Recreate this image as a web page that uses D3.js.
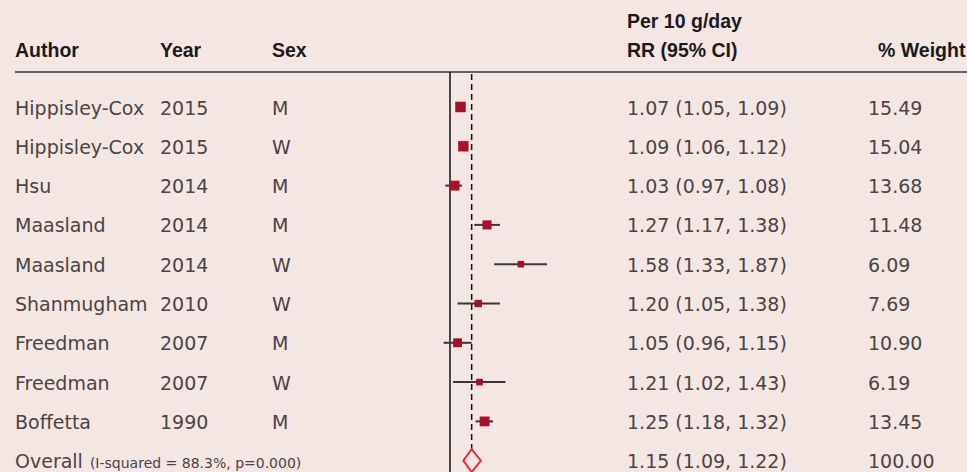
<!DOCTYPE html>
<html>
<head>
<meta charset="utf-8">
<script src="https://cdn.jsdelivr.net/npm/d3@7"></script>
<style>
  html, body { margin: 0; padding: 0; background: #f4e6e3; }
  svg { display: block; }
</style>
</head>
<body>
<div id="chart"></div>
<script>
const authors = ["Hippisley-Cox", "Hippisley-Cox", "Hsu", "Maasland", "Maasland", "Shanmugham", "Freedman", "Freedman", "Boffetta"];
const years = ["2015", "2015", "2014", "2014", "2014", "2010", "2007", "2007", "1990"];
const sexes = ["M", "W", "M", "M", "W", "W", "M", "W", "M"];
const rrValues = [1.07, 1.09, 1.03, 1.27, 1.58, 1.20, 1.05, 1.21, 1.25];
const ciLow = [1.05, 1.06, 0.97, 1.17, 1.33, 1.05, 0.96, 1.02, 1.18];
const ciHigh = [1.09, 1.12, 1.08, 1.38, 1.87, 1.38, 1.15, 1.43, 1.32];
const weights = ["15.49", "15.04", "13.68", "11.48", "6.09", "7.69", "10.90", "6.19", "13.45"];
const overall = { label: "Overall", note: "(I-squared = 88.3%, p=0.000)", rr: 1.15, lo: 1.09, hi: 1.22, weight: "100.00" };
const headers = ["Author", "Year", "Sex", "Per 10 g/day", "RR (95% CI)", "% Weight"];

const W = 967, H = 472;
const svg = d3.select("#chart").append("svg").attr("width", W).attr("height", H);
svg.append("rect").attr("width", W).attr("height", H).attr("fill", "#f4e6e3");

const x = d3.scaleLog().domain([1, 2]).range([450, 557.4]);
const rowIdx = d3.range(authors.length + 1);
const y = d3.scalePoint().domain(rowIdx).range([107, 460.7]);

const col = { author: 15, year: 160, sex: 272, rr: 627, weight: 868, weightHead: 878 };
const textColor = "#4a4444";
const bodyFont = "DejaVu Sans";
const headFont = "Liberation Sans";

// header
const hdr = svg.append("g").attr("font-family", headFont).attr("font-weight", "bold")
  .attr("font-size", 19.5).attr("fill", "#1c1a1a");
hdr.append("text").attr("x", col.author).attr("y", 57).text(headers[0]);
hdr.append("text").attr("x", col.year).attr("y", 57).text(headers[1]);
hdr.append("text").attr("x", col.sex).attr("y", 57).text(headers[2]);
hdr.append("text").attr("x", col.rr).attr("y", 28).text(headers[3]);
hdr.append("text").attr("x", col.rr).attr("y", 57).text(headers[4]);
hdr.append("text").attr("x", col.weightHead).attr("y", 57).text(headers[5]);

svg.append("line").attr("x1", 15).attr("x2", W).attr("y1", 72).attr("y2", 72)
  .attr("stroke", "#333").attr("stroke-width", 1.5);

// reference lines
svg.append("line").attr("x1", x(1)).attr("x2", x(1)).attr("y1", 72).attr("y2", H)
  .attr("stroke", "#111").attr("stroke-width", 1.5);
svg.append("line").attr("x1", x(overall.rr)).attr("x2", x(overall.rr)).attr("y1", 74).attr("y2", H)
  .attr("stroke", "#111").attr("stroke-width", 1.5).attr("stroke-dasharray", "6,4");

// study rows
const rows = svg.append("g");
const studies = authors.map((a, i) => ({ i, a, yr: years[i], s: sexes[i], rr: rrValues[i], lo: ciLow[i], hi: ciHigh[i], w: weights[i] }));
const size = d3.scaleSqrt().domain([0, 15.49]).range([0, 10.5]);

rows.selectAll("line.ci").data(studies).join("line").attr("class", "ci")
  .attr("x1", d => x(d.lo)).attr("x2", d => x(d.hi))
  .attr("y1", d => y(d.i)).attr("y2", d => y(d.i))
  .attr("stroke", "#3a3636").attr("stroke-width", 2);
rows.selectAll("rect.box").data(studies).join("rect").attr("class", "box")
  .attr("x", d => x(d.rr) - size(+d.w) / 2).attr("y", d => y(d.i) - size(+d.w) / 2)
  .attr("width", d => size(+d.w)).attr("height", d => size(+d.w))
  .attr("fill", "#a80f28");

const txt = svg.append("g").attr("font-family", bodyFont).attr("font-size", 19).attr("fill", textColor);
const dyBase = 7.5;
studies.forEach(d => {
  const yy = y(d.i) + dyBase;
  txt.append("text").attr("x", col.author).attr("y", yy).text(d.a);
  txt.append("text").attr("x", col.year).attr("y", yy).text(d.yr);
  txt.append("text").attr("x", col.sex).attr("y", yy).text(d.s);
  txt.append("text").attr("x", col.rr).attr("y", yy).text(`${d.rr.toFixed(2)} (${d.lo.toFixed(2)}, ${d.hi.toFixed(2)})`);
  txt.append("text").attr("x", col.weight).attr("y", yy).text(d.w);
});

// overall row
const oi = authors.length;
const oy = y(oi);
const ov = txt.append("text").attr("x", col.author).attr("y", oy + dyBase);
ov.append("tspan").text(overall.label);
ov.append("tspan").attr("dx", 7).attr("font-size", 14).text(overall.note);
txt.append("text").attr("x", col.rr).attr("y", oy + dyBase)
  .text(`${overall.rr.toFixed(2)} (${overall.lo.toFixed(2)}, ${overall.hi.toFixed(2)})`);
txt.append("text").attr("x", col.weight).attr("y", oy + dyBase).text(overall.weight);

const dh = 11.5;
svg.append("path")
  .attr("d", `M${x(overall.lo)},${oy} L${x(overall.rr)},${oy - dh} L${x(overall.hi)},${oy} L${x(overall.rr)},${oy + dh} Z`)
  .attr("fill", "#f4e6e3").attr("stroke", "#e3303f").attr("stroke-width", 2);
</script>
</body>
</html>
